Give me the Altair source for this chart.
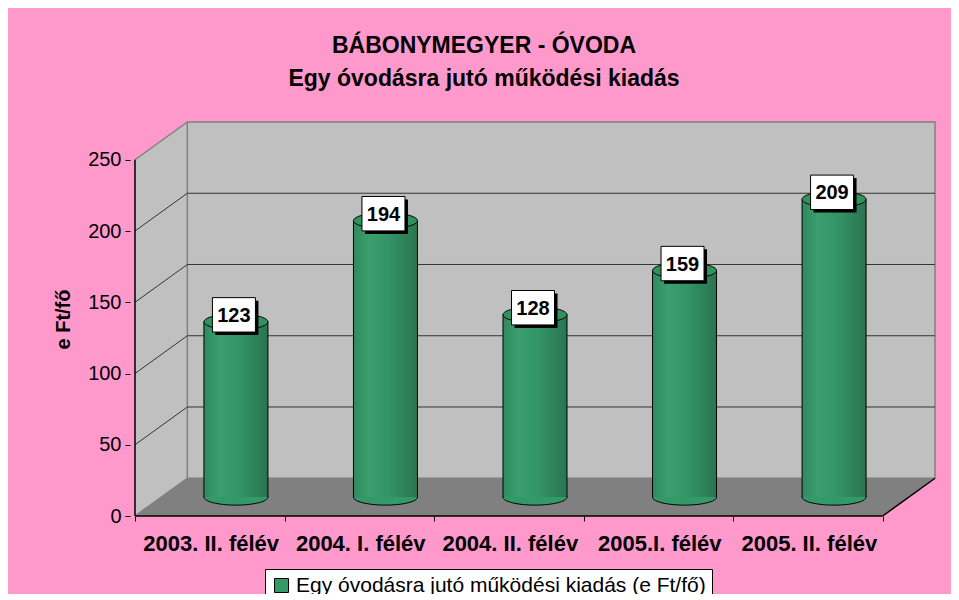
import json
import altair as alt
import pandas as pd

# ---------------- data ----------------
categories = ["2003. II. félév", "2004. I. félév", "2004. II. félév",
              "2005.I. félév", "2005. II. félév"]
values = [123, 194, 128, 159, 209]
y_ticks = [0, 50, 100, 150, 200, 250]
series_name = "Egy óvodásra jutó működési kiadás (e Ft/fő)"
title_lines = ["BÁBONYMEGYER - ÓVODA", "Egy óvodásra jutó működési kiadás"]
y_title = "e Ft/fő"

# ---------------- style ----------------
DEPTH_X = 0.35      # 3-D depth, in category units
DEPTH_Y = 26.5      # 3-D depth, in value units
W, H = 810, 394
FONT = "Liberation Sans"
PINK = "#FF99CC"
WALL = "#C0C0C0"
FLOOR = "#808080"
EDGE = "#808080"
GRID = "#333333"
GREEN = "#339966"
TOP_GREEN = "#33915f"
BAR_W = 64
LBL_W = 43
LBL_DX, LBL_DY = -2, -7
ELLIPSE = "M -1 0 A 1 0.25 0 1 0 1 0 A 1 0.25 0 1 0 -1 0 Z"
BOX = "M -1 -0.8 L 1 -0.8 L 1 0.8 L -1 0.8 Z"
GRADIENT = {
    "gradient": "linear", "x1": 0, "y1": 0, "x2": 1, "y2": 0,
    "stops": [
        {"offset": 0.0, "color": "#2f8a5e"},
        {"offset": 0.25, "color": "#3b9f6f"},
        {"offset": 0.55, "color": "#339466"},
        {"offset": 1.0, "color": "#2a7450"},
    ],
}

n = len(categories)
ymax = max(y_ticks)
x_end = n + DEPTH_X
y_end = ymax + DEPTH_Y

XS = alt.Scale(domain=[0, x_end], nice=False, zero=False)
YS = alt.Scale(domain=[0, y_end], nice=False, zero=False)

label_expr = json.dumps(categories, ensure_ascii=False) + "[datum.value] || ''"
X_AXIS = alt.Axis(
    values=list(range(n + 1)), labelExpr=label_expr,
    labelOffset=W / x_end / 2, domain=False, grid=False,
    ticks=True, tickColor="black", tickSize=5, tickWidth=1,
    labelFont=FONT, labelFontSize=22, labelFontWeight="bold", labelColor="black",
    labelPadding=12, labelOverlap=False, labelFlush=False, labelBound=False,
    title=None,
)
Y_AXIS = alt.Axis(
    values=y_ticks, domain=False, grid=False,
    ticks=True, tickColor="black", tickSize=5, tickWidth=1,
    labelFont=FONT, labelFontSize=20, labelColor="black", labelPadding=4,
    title=y_title, titleFont=FONT, titleFontSize=20, titleFontWeight="bold",
    titleColor="black", titlePadding=14,
)


def X(f):
    return alt.X(f"{f}:Q", scale=XS, axis=X_AXIS)


def Y(f):
    return alt.Y(f"{f}:Q", scale=YS, axis=Y_AXIS)


# ---------------- 3-D box ----------------
side_df = pd.DataFrame({"x": [0, DEPTH_X], "lo": [0, DEPTH_Y], "hi": [ymax, y_end]})
floor_df = pd.DataFrame({"x": [0, DEPTH_X, n, x_end],
                         "lo": [0, 0, 0, DEPTH_Y],
                         "hi": [0, DEPTH_Y, DEPTH_Y, DEPTH_Y]})
back_df = pd.DataFrame({"x": [DEPTH_X], "x2": [x_end], "y": [DEPTH_Y], "y2": [y_end]})

grid_rows = []
for v in y_ticks[1:-1]:
    grid_rows += [{"g": v, "o": 0, "x": 0, "y": v},
                  {"g": v, "o": 1, "x": DEPTH_X, "y": v + DEPTH_Y},
                  {"g": v, "o": 2, "x": x_end, "y": v + DEPTH_Y}]
grid_df = pd.DataFrame(grid_rows)

grey_edges = pd.DataFrame([
    {"s": "a", "o": 0, "x": 0, "y": ymax}, {"s": "a", "o": 1, "x": DEPTH_X, "y": y_end},
    {"s": "b", "o": 0, "x": 0, "y": 0}, {"s": "b", "o": 1, "x": DEPTH_X, "y": DEPTH_Y},
])
black_edges = pd.DataFrame([
    {"s": "y", "o": 0, "x": 0, "y": 0}, {"s": "y", "o": 1, "x": 0, "y": ymax},
    {"s": "f", "o": 0, "x": 0, "y": 0}, {"s": "f", "o": 1, "x": n, "y": 0},
    {"s": "r", "o": 0, "x": n, "y": 0}, {"s": "r", "o": 1, "x": x_end, "y": DEPTH_Y},
])

side = alt.Chart(side_df).mark_area(color=WALL, orient="vertical").encode(
    x=X("x"), y=Y("lo"), y2="hi")
floor = alt.Chart(floor_df).mark_area(color=FLOOR, orient="vertical").encode(
    x=X("x"), y=Y("lo"), y2="hi")
back = alt.Chart(back_df).mark_rect(fill=WALL, stroke=EDGE, strokeWidth=1.5).encode(
    x=X("x"), x2="x2", y=Y("y"), y2="y2")
grid = alt.Chart(grid_df).mark_line(color=GRID, strokeWidth=1).encode(
    x=X("x"), y=Y("y"), detail="g:N", order="o:Q")
gedges = alt.Chart(grey_edges).mark_line(color=EDGE, strokeWidth=1.5).encode(
    x=X("x"), y=Y("y"), detail="s:N", order="o:Q")
bedges = alt.Chart(black_edges).mark_line(color="black", strokeWidth=1.5).encode(
    x=X("x"), y=Y("y"), detail="s:N", order="o:Q")

# ---------------- cylinders ----------------
bars = pd.DataFrame({
    "cx": [i + 0.5 + DEPTH_X / 2 for i in range(n)],
    "y0": [DEPTH_Y / 2] * n,
    "y1": [v + DEPTH_Y / 2 for v in values],
    "v": values,
    "series": [series_name] * n,
})

LEGEND = alt.Legend(
    title=None, orient="none", legendX=135, legendY=447,
    fillColor="white", strokeColor="black", padding=6,
    labelFont=FONT, labelFontSize=21, labelColor="black", labelLimit=800,
    symbolType="square", symbolSize=196, symbolStrokeColor="black",
    symbolStrokeWidth=1, symbolOpacity=1,
)

bottom = alt.Chart(bars).mark_point(
    shape=ELLIPSE, size=BAR_W ** 2, filled=True, stroke="black",
    strokeWidth=1, opacity=1,
).encode(x=X("cx"), y=Y("y0"),
         color=alt.Color("series:N", scale=alt.Scale(range=[GREEN]), legend=LEGEND))
body = alt.Chart(bars).mark_bar(size=BAR_W, fill=GRADIENT, orient="vertical").encode(
    x=X("cx"), y=Y("y0"), y2="y1")
left_line = alt.Chart(bars).mark_rule(color="black", strokeWidth=1, xOffset=-BAR_W / 2).encode(
    x=X("cx"), y=Y("y0"), y2="y1")
right_line = alt.Chart(bars).mark_rule(color="black", strokeWidth=1, xOffset=BAR_W / 2).encode(
    x=X("cx"), y=Y("y0"), y2="y1")
top = alt.Chart(bars).mark_point(
    shape=ELLIPSE, size=BAR_W ** 2, filled=True, fill=TOP_GREEN, stroke="black",
    strokeWidth=1, opacity=1,
).encode(x=X("cx"), y=Y("y1"))

# ---------------- value labels ----------------
shadow = alt.Chart(bars).mark_point(
    shape=BOX, size=LBL_W ** 2, filled=True, fill="black", opacity=1,
    xOffset=LBL_DX + 3, yOffset=LBL_DY + 3,
).encode(x=X("cx"), y=Y("y1"))
box = alt.Chart(bars).mark_point(
    shape=BOX, size=LBL_W ** 2, filled=True, fill="white", stroke="black",
    strokeWidth=1, opacity=1, xOffset=LBL_DX, yOffset=LBL_DY,
).encode(x=X("cx"), y=Y("y1"))
text = alt.Chart(bars).mark_text(
    font=FONT, fontSize=20, fontWeight="bold", color="black",
    align="center", baseline="middle", xOffset=LBL_DX, yOffset=LBL_DY + 1,
).encode(x=X("cx"), y=Y("y1"), text="v:Q")

chart = alt.layer(
    side, floor, back, grid, gedges, bedges,
    bottom, body, left_line, right_line, top,
    shadow, box, text,
).properties(
    width=W, height=H, background=PINK,
    autosize=alt.AutoSizeParams(type="none"),
    padding={"left": 122, "top": 114, "right": 11, "bottom": 78},
    title=alt.Title(
        text=title_lines, font=FONT, fontSize=23, fontWeight="bold",
        color="black", anchor="middle", dx=-51, offset=28, lineHeight=33,
    ),
).configure_view(stroke=None)

chart.save("out.html", embed_options={"renderer": "svg", "actions": False})
